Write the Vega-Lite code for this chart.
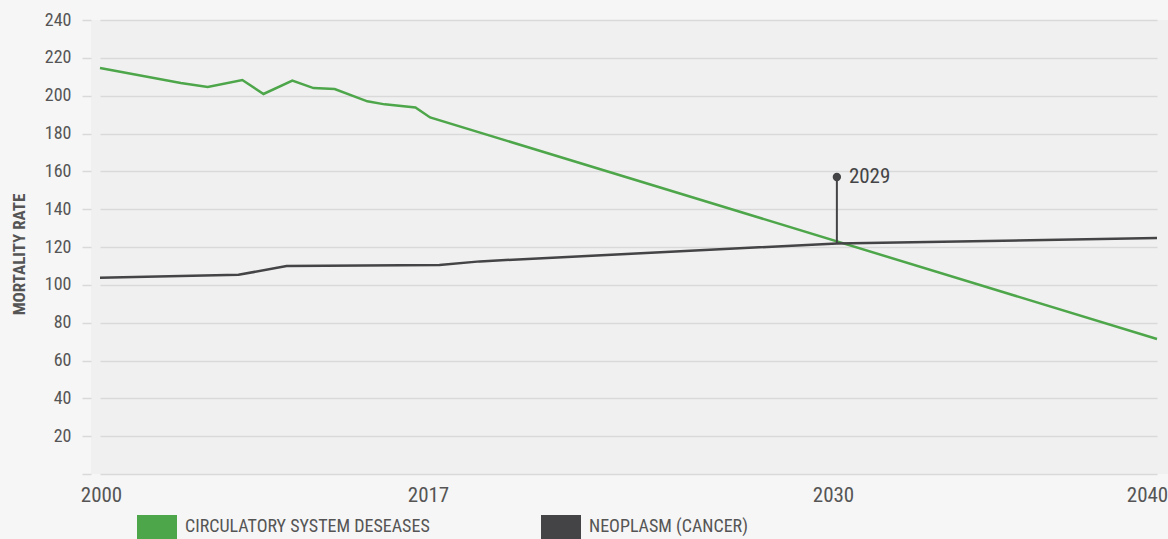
{
  "$schema": "https://vega.github.io/schema/vega-lite/v6.json",
  "width": 1077,
  "height": 454,
  "autosize": {"type": "none"},
  "padding": {"left": 91, "top": 20, "right": 0, "bottom": 65},
  "background": "#f6f6f6",
  "config": {
    "view": {"fill": "#f0f0f0", "stroke": null},
    "font": "Roboto Condensed, Liberation Sans Narrow, DejaVu Sans Condensed, sans-serif",
    "axisY": {
      "titleFontSize": 17,
      "titleFontWeight": "bold",
      "titleColor": "#555555",
      "titleX": -72,
      "titleY": 234,
      "titleAngle": -90,
      "titleAlign": "center",
      "titleBaseline": "middle",
      "labelOverlap": false,
      "labelFontSize": 18,
      "labelColor": "#555555",
      "labelPadding": 11,
      "domain": false,
      "tickSize": 9,
      "tickColor": "#d9d9d9",
      "tickWidth": 1.5,
      "gridColor": "#d9d9d9",
      "gridWidth": 1.5
    }
  },
  "datasets": {
    "series": [
      {"year": 2000, "rate": 214.6, "cause": "CIRCULATORY SYSTEM DESEASES"},
      {"year": 2004.2, "rate": 206.7, "cause": "CIRCULATORY SYSTEM DESEASES"},
      {"year": 2005.6, "rate": 204.6, "cause": "CIRCULATORY SYSTEM DESEASES"},
      {"year": 2007.4, "rate": 208.3, "cause": "CIRCULATORY SYSTEM DESEASES"},
      {"year": 2008.5, "rate": 200.9, "cause": "CIRCULATORY SYSTEM DESEASES"},
      {"year": 2010.0, "rate": 208.0, "cause": "CIRCULATORY SYSTEM DESEASES"},
      {"year": 2011.1, "rate": 204.0, "cause": "CIRCULATORY SYSTEM DESEASES"},
      {"year": 2012.2, "rate": 203.5, "cause": "CIRCULATORY SYSTEM DESEASES"},
      {"year": 2013.9, "rate": 197.0, "cause": "CIRCULATORY SYSTEM DESEASES"},
      {"year": 2014.8, "rate": 195.4, "cause": "CIRCULATORY SYSTEM DESEASES"},
      {"year": 2016.4, "rate": 193.8, "cause": "CIRCULATORY SYSTEM DESEASES"},
      {"year": 2017.1, "rate": 188.5, "cause": "CIRCULATORY SYSTEM DESEASES"},
      {"year": 2040, "rate": 71.4, "cause": "CIRCULATORY SYSTEM DESEASES"},
      {"year": 2000, "rate": 103.8, "cause": "NEOPLASM (CANCER)"},
      {"year": 2007.2, "rate": 105.3, "cause": "NEOPLASM (CANCER)"},
      {"year": 2009.7, "rate": 109.9, "cause": "NEOPLASM (CANCER)"},
      {"year": 2017.4, "rate": 110.5, "cause": "NEOPLASM (CANCER)"},
      {"year": 2018.7, "rate": 112.4, "cause": "NEOPLASM (CANCER)"},
      {"year": 2030.15, "rate": 121.9, "cause": "NEOPLASM (CANCER)"},
      {"year": 2040, "rate": 124.7, "cause": "NEOPLASM (CANCER)"}
    ],
    "marker": [
      {"year": 2030.15, "low": 121.9, "high": 157, "label": "2029"}
    ]
  },
  "encoding": {
    "x": {
      "field": "year",
      "type": "quantitative",
      "scale": {"domain": [2000, 2017, 2030, 2040], "range": [9, 336, 741, 1066], "nice": false, "zero": false},
      "axis": {
        "title": null,
        "values": [2000, 2017, 2030, 2040],
        "format": "d",
        "domain": false,
        "ticks": false,
        "grid": false,
        "labelFontSize": 21,
        "labelColor": "#555555",
        "labelPadding": 10,
        "labelFlush": false,
        "labelOverlap": false,
        "labelOffset": {"condition": {"test": "datum.value == 2040", "value": -10}, "value": 1}
      }
    }
  },
  "layer": [
    {
      "data": {"name": "series"},
      "mark": {"type": "line", "strokeWidth": 2.5},
      "encoding": {
        "y": {
          "field": "rate",
          "type": "quantitative",
          "scale": {"domain": [0, 240], "nice": false},
          "axis": {
            "title": "MORTALITY RATE",
            "values": [0, 20, 40, 60, 80, 100, 120, 140, 160, 180, 200, 220, 240],
            "labelExpr": "datum.value == 0 ? '' : datum.label"
          }
        },
        "color": {
          "field": "cause",
          "type": "nominal",
          "scale": {"domain": ["CIRCULATORY SYSTEM DESEASES", "NEOPLASM (CANCER)"], "range": ["#4ea64a", "#444446"]},
          "legend": {
            "title": null,
            "orient": "none",
            "direction": "horizontal",
            "legendX": 46,
            "legendY": 487,
            "padding": 0,
            "symbolType": "M-1,-0.6H1V0.6H-1Z",
            "symbolSize": 1600,
            "symbolStrokeWidth": 0,
            "labelFontSize": 18,
            "labelColor": "#555555",
            "labelOffset": 8,
            "columnPadding": 111,
            "labelLimit": 400,
            "encode": {
              "symbols": {"update": {"fill": {"scale": "color", "field": "value"}, "strokeWidth": {"value": 0}, "opacity": {"value": 1}}}
            }
          }
        }
      }
    },
    {
      "data": {"name": "marker"},
      "mark": {"type": "rule", "color": "#444446", "strokeWidth": 2},
      "encoding": {
        "y": {
          "field": "low",
          "type": "quantitative",
          "axis": {
            "title": "MORTALITY RATE",
            "values": [0, 20, 40, 60, 80, 100, 120, 140, 160, 180, 200, 220, 240],
            "labelExpr": "datum.value == 0 ? '' : datum.label"
          }
        },
        "y2": {"field": "high"}
      }
    },
    {
      "data": {"name": "marker"},
      "mark": {"type": "point", "filled": true, "color": "#444446", "size": 70, "opacity": 1},
      "encoding": {
        "y": {
          "field": "high",
          "type": "quantitative",
          "axis": {
            "title": "MORTALITY RATE",
            "values": [0, 20, 40, 60, 80, 100, 120, 140, 160, 180, 200, 220, 240],
            "labelExpr": "datum.value == 0 ? '' : datum.label"
          }
        }
      }
    },
    {
      "data": {"name": "marker"},
      "mark": {"type": "text", "align": "left", "baseline": "middle", "dx": 12, "fontSize": 21, "color": "#444446"},
      "encoding": {
        "y": {
          "field": "high",
          "type": "quantitative",
          "axis": {
            "title": "MORTALITY RATE",
            "values": [0, 20, 40, 60, 80, 100, 120, 140, 160, 180, 200, 220, 240],
            "labelExpr": "datum.value == 0 ? '' : datum.label"
          }
        },
        "text": {"field": "label"}
      }
    }
  ]
}
